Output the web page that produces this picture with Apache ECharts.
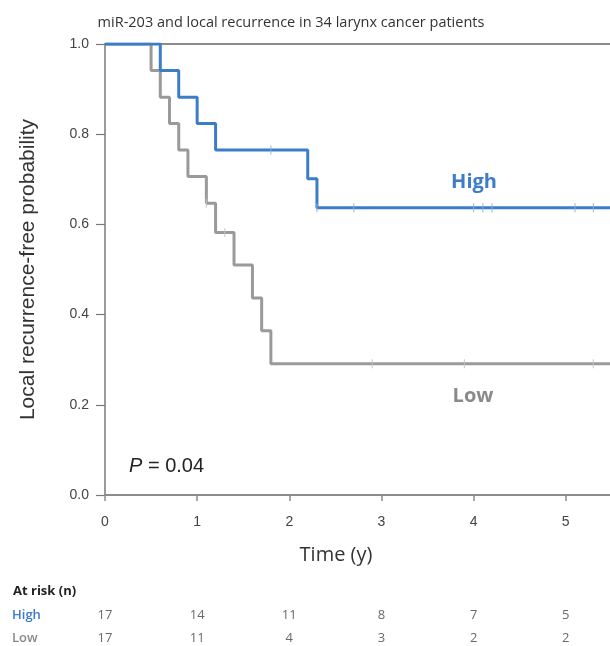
<!DOCTYPE html>
<html>
<head>
<meta charset="utf-8">
<script src="https://cdn.jsdelivr.net/npm/echarts@6/dist/echarts.min.js"></script>
<style>html,body{margin:0;padding:0;background:#fff}#c{width:610px;height:646px}</style>
</head>
<body>
<div id="c"></div>
<script>
// Kaplan-Meier step data (time in years, survival probability)
const highTimes = [0, 0.6, 0.8, 1.0, 1.2, 2.2, 2.3, 5.5];
const highSurv  = [1, 0.941, 0.882, 0.824, 0.765, 0.701, 0.637, 0.637];
const highCensorTimes = [1.8, 2.3, 2.7, 4.0, 4.1, 4.2, 5.1, 5.3];
const highCensorSurv  = [0.765, 0.637, 0.637, 0.637, 0.637, 0.637, 0.637, 0.637];

const lowTimes = [0, 0.5, 0.6, 0.7, 0.8, 0.9, 1.1, 1.2, 1.4, 1.6, 1.7, 1.8, 5.5];
const lowSurv  = [1, 0.941, 0.882, 0.824, 0.765, 0.706, 0.647, 0.582, 0.510, 0.437, 0.364, 0.291, 0.291];
const lowCensorTimes = [1.1, 1.3, 2.9, 3.9, 5.3];
const lowCensorSurv  = [0.647, 0.582, 0.291, 0.291, 0.291];

const xTicks = [0, 1, 2, 3, 4, 5];
const yTicks = [0, 0.2, 0.4, 0.6, 0.8, 1.0];
const riskTimes = [0, 1, 2, 3, 4, 5];
const riskHigh = [17, 14, 11, 8, 7, 5];
const riskLow  = [17, 11, 4, 3, 2, 2];
const groups = ['High', 'Low'];

const BLUE = '#3d7cc9';
const GRAY = '#9a9a9a';
const XMAX = 5.48;

const zip = (a, b) => a.map((v, i) => [v, b[i]]);

const chart = echarts.init(document.getElementById('c'), null, {renderer: 'canvas'});
chart.setOption({
  animation: false,
  title: [
    {text: 'miR-203 and local recurrence in 34 larynx cancer patients', left: 291, top: 15, textAlign: 'center', padding: 0,
     textStyle: {fontFamily: 'Open Sans', fontSize: 14.5, fontWeight: 'normal', color: '#333'}},
    {text: 'Time (y)', left: 336, top: 545, textAlign: 'center', padding: 0,
     textStyle: {fontFamily: 'Open Sans', fontSize: 20, fontWeight: 'normal', color: '#333'}},
    {text: 'At risk (n)', left: 13, top: 585, padding: 0,
     textStyle: {fontFamily: 'Open Sans', fontSize: 13, fontWeight: 'bold', color: '#222'}},
    {text: 'High', left: 474, top: 172, textAlign: 'center', padding: 0,
     textStyle: {fontFamily: 'Open Sans', fontSize: 20, fontWeight: 'bold', color: BLUE}},
    {text: 'Low', left: 473, top: 386, textAlign: 'center', padding: 0,
     textStyle: {fontFamily: 'Open Sans', fontSize: 20, fontWeight: 'bold', color: '#8a8a8a'}},
    {text: '{i|P} = 0.04', left: 129, top: 456, padding: 0,
     textStyle: {fontFamily: 'Liberation Sans', fontSize: 20, fontWeight: 'normal', color: '#222',
       rich: {i: {fontStyle: 'italic', fontFamily: 'Liberation Sans', fontSize: 20, color: '#222'}}}}
  ],
  grid: [
    {left: 105, right: 0, top: 44, bottom: 151},
    {left: 105, right: 0, top: 615, height: 23.5}
  ],
  xAxis: [
    {type: 'value', gridIndex: 0, min: 0, max: XMAX, interval: 1,
     axisLine: {show: true, onZero: false, lineStyle: {color: '#8c8c8c', width: 2}},
     axisTick: {show: true, inside: false, length: 6, customValues: xTicks, lineStyle: {color: '#8c8c8c', width: 1.5}},
     axisLabel: {customValues: xTicks, margin: 20, fontFamily: 'Liberation Sans', fontSize: 14, color: '#444'},
     splitLine: {show: false}},
    {type: 'value', gridIndex: 0, position: 'top', min: 0, max: XMAX,
     axisLine: {show: true, onZero: false, lineStyle: {color: '#8c8c8c', width: 2}},
     axisTick: {show: false}, axisLabel: {show: false}, splitLine: {show: false}},
    {type: 'value', gridIndex: 1, min: 0, max: XMAX, show: false}
  ],
  yAxis: [
    {type: 'value', gridIndex: 0, min: 0, max: 1, interval: 0.2,
     name: 'Local recurrence-free probability', nameLocation: 'middle', nameGap: 66,
     nameTextStyle: {fontFamily: 'Liberation Sans', fontSize: 21, color: '#333'},
     axisLine: {show: true, onZero: false, lineStyle: {color: '#7a7a7a', width: 1.5}},
     axisTick: {show: true, length: 9, customValues: yTicks, lineStyle: {color: '#7a7a7a', width: 1.2}},
     axisLabel: {margin: 16, fontFamily: 'Liberation Sans', fontSize: 14, color: '#444',
       formatter: v => v.toFixed(1)},
     splitLine: {show: false}},
    {type: 'category', gridIndex: 1, data: groups, inverse: true, boundaryGap: false,
     axisLine: {show: false}, axisTick: {show: false}, splitLine: {show: false},
     axisLabel: {align: 'left', margin: 93, fontFamily: 'Open Sans', fontSize: 13, fontWeight: 600,
       color: function (v) { return v === 'High' ? BLUE : '#8a8a8a'; }}}
  ],
  series: [
    {type: 'line', xAxisIndex: 0, yAxisIndex: 0, step: 'end', data: zip(lowTimes, lowSurv), showSymbol: false,
     lineStyle: {color: GRAY, width: 3}, z: 3},
    {type: 'line', xAxisIndex: 0, yAxisIndex: 0, step: 'end', data: zip(highTimes, highSurv), showSymbol: false,
     lineStyle: {color: BLUE, width: 3}, z: 4},
    {type: 'scatter', xAxisIndex: 0, yAxisIndex: 0, data: zip(lowCensorTimes, lowCensorSurv),
     symbol: 'rect', symbolSize: [1.2, 9], itemStyle: {color: '#c4c4c4'}, z: 5},
    {type: 'scatter', xAxisIndex: 0, yAxisIndex: 0, data: zip(highCensorTimes, highCensorSurv),
     symbol: 'rect', symbolSize: [1.2, 9], itemStyle: {color: '#86b0e0'}, z: 5},
    {type: 'scatter', xAxisIndex: 2, yAxisIndex: 1, symbolSize: 0,
     data: riskTimes.map((t, i) => [t, 'High', riskHigh[i]]),
     label: {show: true, position: 'inside', formatter: p => String(p.value[2]),
       fontFamily: 'Open Sans', fontSize: 13, color: '#444'}},
    {type: 'scatter', xAxisIndex: 2, yAxisIndex: 1, symbolSize: 0,
     data: riskTimes.map((t, i) => [t, 'Low', riskLow[i]]),
     label: {show: true, position: 'inside', formatter: p => String(p.value[2]),
       fontFamily: 'Open Sans', fontSize: 13, color: '#444'}}
  ]
});
</script>
</body>
</html>
